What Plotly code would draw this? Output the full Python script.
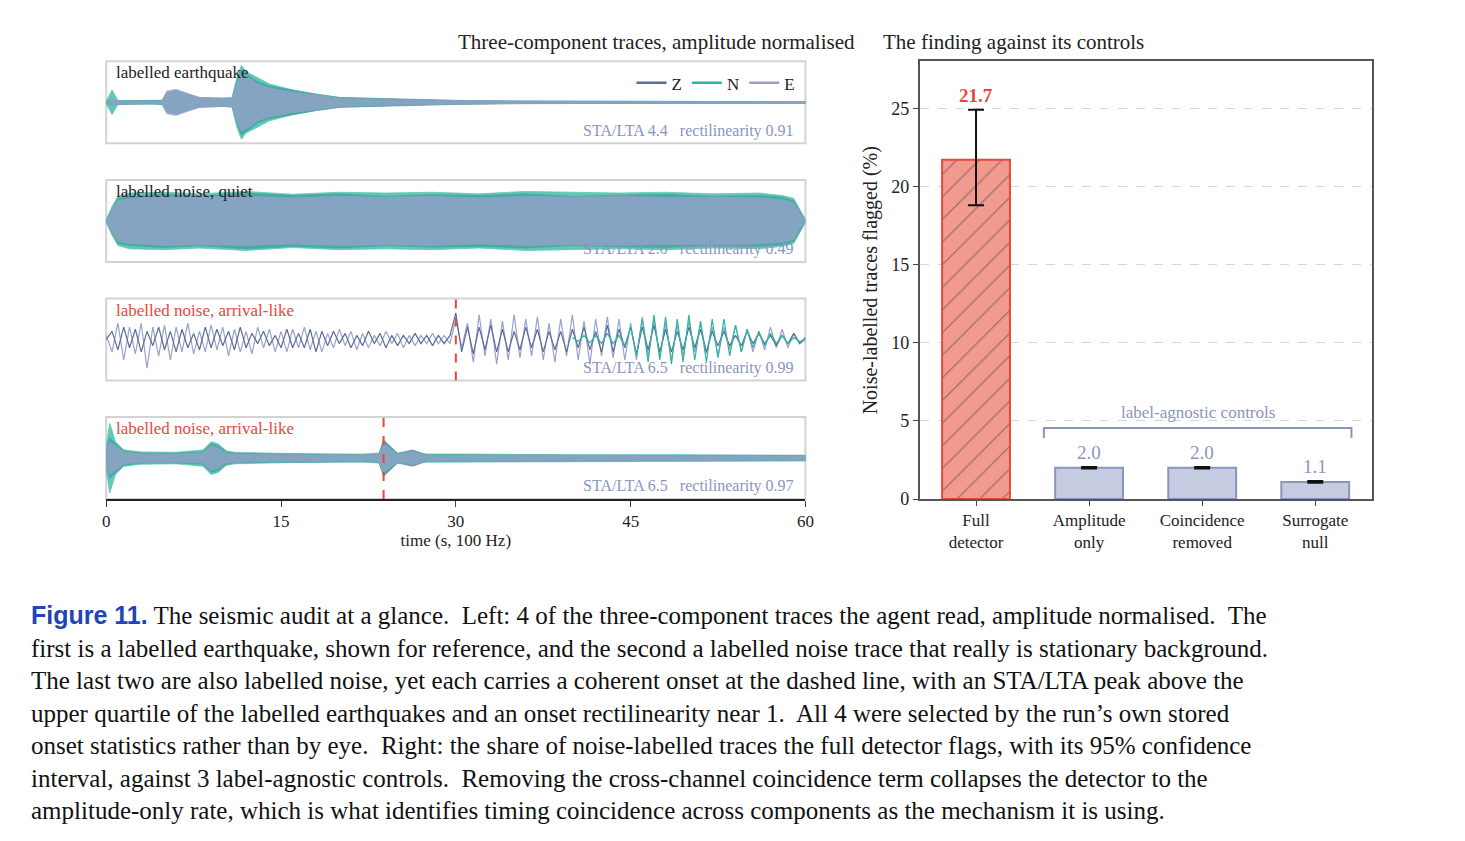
import plotly.graph_objects as go

# ---------- data ----------
comp_names = ["Z", "N", "E"]
comp_colors = ["#5b6d97", "#2fb5a0", "#9aa2cc"]

# panel 1: labelled earthquake, envelope (fraction of half-height)
eq_t = [0, 0.5, 1, 2, 4, 4.8, 5.2, 6, 7, 8, 10, 10.8, 11.2, 11.6, 12, 13, 14, 16, 18, 20, 25, 30, 35, 40, 50, 60]
eq_env_z = [.03, .05, .04, .04, .04, .05, .25, .3, .2, .12, .1, .1, .5, .8, .7, .5, .4, .3, .2, .12, .08, .05, .03, .03, .02, .02]
eq_env_n = [.03, .3, .05, .04, .04, .05, .2, .28, .18, .1, .1, .12, .6, .9, .75, .6, .45, .3, .2, .12, .07, .04, .03, .03, .02, .02]
eq_env_e = [.02, .05, .04, .03, .03, .04, .28, .32, .22, .12, .1, .1, .45, .7, .65, .45, .35, .25, .18, .1, .06, .04, .03, .02, .02, .02]

# panel 2: labelled noise, quiet
qn_t = [0, 0.5, 1, 2, 5, 8, 12, 16, 20, 24, 28, 32, 36, 40, 44, 48, 52, 56, 58, 59, 59.5, 60]
qn_env_z = [.03, .3, .55, .6, .65, .6, .68, .62, .66, .6, .64, .62, .66, .6, .63, .65, .6, .62, .58, .5, .25, .03]
qn_env_n = [.03, .35, .6, .68, .7, .66, .72, .65, .7, .68, .7, .66, .72, .7, .68, .7, .66, .68, .62, .55, .3, .03]
qn_env_e = [.03, .25, .5, .55, .6, .58, .6, .56, .6, .58, .6, .56, .6, .58, .6, .57, .58, .56, .52, .45, .2, .03]

# panel 3: labelled noise, arrival-like (samples every 0.5 s)
ar_t = [i * 0.5 for i in range(121)]
ar_z = [0, .2, -.25, .3, -.2, .25, -.3, .2, -.15, .3, -.25, .2, -.3, .25, -.2, .15, -.25, .3, -.2, .25, -.15, .2, -.25, .3, -.2, .15, -.1, .2, -.15, .1,
        -.2, .25, -.2, .15, -.2, .25, -.3, .2, -.15, .2, -.1, .15, -.2, .1, -.15, .2, -.1, .15, -.2, .1, -.15, .1, -.1, .15, -.1, .1, -.15, .1, -.1, .1,
        .65, -.3, .3, -.35, .3, -.25, .35, -.3, .25, -.3, .2, -.25, .3, -.2, .25, -.3, .2, -.25, .2, -.3, .25, -.2, .3, -.25, .2, -.3, .35, -.3, .25, -.2,
        .3, -.35, .3, -.25, .35, -.3, .25, -.3, .2, -.25, .3, -.2, .25, -.3, .2, -.15, .2, -.15, .1, -.15, .2, -.1, .15, -.1, .1, -.15, .1, -.1, .15, -.1, .05]
ar_e = [.1, -.3, .4, -.5, .3, -.35, .4, -.7, .3, -.4, .35, -.5, .3, -.3, .4, -.35, .2, -.3, .35, -.25, .3, -.4, .25, -.3, .2, -.35, .3, -.2, .25, -.3,
        .2, -.3, .25, -.2, .3, -.25, .2, -.3, .15, -.2, .25, -.15, .2, -.25, .15, -.2, .1, -.15, .2, -.1, .15, -.2, .1, -.15, .1, -.1, .15, -.1, .1, -.1,
        .5, -.2, .4, -.55, .6, -.4, .5, -.6, .45, -.5, .6, -.45, .5, -.4, .55, -.5, .4, -.55, .5, -.4, .6, -.5, .45, -.6, .5, -.4, .55, -.45, .5, -.5,
        .4, -.5, .55, -.4, .5, -.45, .4, -.5, .35, -.4, .45, -.3, .4, -.35, .3, -.4, .3, -.25, .35, -.3, .25, -.3, .2, -.25, .3, -.2, .25, -.2, .15, -.1, 0]
ar_n_t = [40 + i * 0.5 for i in range(41)]
ar_n = [.05, -.05, .1, -.08, .1, -.1, .15, -.1, .1, -.15,
        .3, -.4, .5, -.55, .6, -.5, .55, -.6, .5, -.55, .6, -.5, .45, -.55, .5, -.45, .5, -.4, .35, -.3,
        .25, -.2, .2, -.15, .15, -.1, .1, -.1, .05, -.05, 0]

# panel 4: labelled noise, arrival-like, envelope
a2_t = [0, 0.3, 0.8, 1.5, 3, 6, 8.3, 9, 9.6, 10.3, 11, 14, 18, 22, 23.4, 23.8, 24.3, 25, 26.3, 26.8, 27.5, 30, 40, 50, 60]
a2_env_z = [.2, .5, .35, .18, .12, .12, .15, .35, .3, .15, .12, .1, .1, .08, .1, .45, .3, .12, .2, .15, .08, .08, .07, .07, .06]
a2_env_n = [.3, .85, .4, .2, .15, .14, .2, .4, .35, .18, .14, .12, .1, .1, .12, .4, .3, .12, .15, .12, .1, .1, .08, .08, .07]
a2_env_e = [.2, .4, .3, .15, .1, .1, .12, .3, .25, .12, .1, .08, .08, .07, .08, .35, .25, .1, .15, .12, .07, .07, .06, .06, .05]

panel_labels = ["labelled earthquake", "labelled noise, quiet", "labelled noise, arrival-like", "labelled noise, arrival-like"]
panel_label_colors = ["#222222", "#222222", "#e8473a", "#e8473a"]
panel_stats = ["STA/LTA 4.4   rectilinearity 0.91", "STA/LTA 2.0   rectilinearity 0.49",
               "STA/LTA 6.5   rectilinearity 0.99", "STA/LTA 6.5   rectilinearity 0.97"]
onsets = [None, None, 30, 23.8]

bar_labels = ["Full<br>detector", "Amplitude<br>only", "Coincidence<br>removed", "Surrogate<br>null"]
bar_values = [21.7, 2.0, 2.0, 1.1]
err_plus = [3.2, 0.05, 0.05, 0.05]
err_minus = [2.9, 0.05, 0.05, 0.05]

# ---------- layout geometry ----------
W, H = 1465, 841
def py(p):
    return 1 - p / H

def ax(n):
    return "" if n == 1 else str(n)

panel_px = [(54, 137), (174, 257), (294, 377), (414, 497)]
left_dom = [95 / W, 800 / W]
right_dom = [915 / W, 1371 / W]
FONT = "Liberation Serif"

fig = go.Figure()

def add_band(i, t, envs):
    for k, env in enumerate(envs):
        xs = list(t) + list(t)[::-1]
        ys = list(env) + [-v for v in env][::-1]
        fig.add_trace(go.Scatter(x=xs, y=ys, fill="toself", mode="lines",
                                 line=dict(color=comp_colors[k], width=0.8),
                                 fillcolor=comp_colors[k], opacity=0.75,
                                 xaxis="x" + ax(i + 1), yaxis="y" + ax(i + 1),
                                 showlegend=False, hoverinfo="skip"))

add_band(0, eq_t, [eq_env_z, eq_env_n, eq_env_e])
add_band(1, qn_t, [qn_env_z, qn_env_n, qn_env_e])
for x, y, k in [(ar_t, ar_e, 2), (ar_t, ar_z, 0), (ar_n_t, ar_n, 1)]:
    fig.add_trace(go.Scatter(x=x, y=y, mode="lines", line=dict(color=comp_colors[k], width=1.2),
                             xaxis="x3", yaxis="y3", showlegend=False, hoverinfo="skip"))
add_band(3, a2_t, [a2_env_z, a2_env_n, a2_env_e])

# legend entries
for k in range(3):
    fig.add_trace(go.Scatter(x=[None], y=[None], mode="lines", name=comp_names[k],
                             line=dict(color=comp_colors[k], width=2.5), xaxis="x", yaxis="y"))

# bars
fig.add_trace(go.Bar(x=[0, 1, 2, 3], y=bar_values, width=0.6, xaxis="x5", yaxis="y5", showlegend=False,
                     marker=dict(color=["#f29a8e", "#c5cbe0", "#c5cbe0", "#c5cbe0"],
                                 line=dict(color=["#e8473a", "#8a95bf", "#8a95bf", "#8a95bf"], width=2),
                                 pattern=dict(shape=["/", "", "", ""], fgcolor="#e8473a", size=16, solidity=0.08)),
                     error_y=dict(type="data", array=err_plus, arrayminus=err_minus, color="#111111",
                                  thickness=2, width=8)))

layout = dict(width=W, height=H, margin=dict(l=0, r=0, t=0, b=0), plot_bgcolor="white",
              paper_bgcolor="white", font=dict(family=FONT, size=18, color="#222222"),
              legend=dict(orientation="h", x=795 / W, xanchor="right", y=py(58), yanchor="top",
                          bgcolor="rgba(0,0,0,0)", font=dict(size=17), tracegroupgap=0))
shapes, annotations = [], []
for i, (top, bot) in enumerate(panel_px):
    n = i + 1
    layout["xaxis" + ax(n)] = dict(domain=left_dom, range=[0, 60], anchor="y" + ax(n),
                                   showgrid=False, zeroline=False, showticklabels=(n == 4),
                                   ticks="outside" if n == 4 else "", tickvals=[0, 15, 30, 45, 60],
                                   showline=(n == 4), linecolor="#222222", linewidth=1.5,
                                   ticklen=6, tickfont=dict(size=17))
    layout["yaxis" + ax(n)] = dict(domain=[py(bot), py(top)], range=[-1, 1], anchor="x" + ax(n),
                                   showgrid=False, zeroline=False, showticklabels=False)
    xr, yr = "x" + ax(n), "y" + ax(n)
    shapes.append(dict(type="rect", xref=xr + " domain", yref=yr + " domain", x0=0, x1=1, y0=0, y1=1,
                       line=dict(color="#d3d3d3", width=2), layer="below"))
    if onsets[i] is not None:
        shapes.append(dict(type="line", xref=xr, yref=yr + " domain", x0=onsets[i], x1=onsets[i],
                           y0=0, y1=1, line=dict(color="#e8473a", width=2, dash="dash")))
    annotations.append(dict(x=8 / 705, y=1, xref=xr + " domain", yref=yr + " domain", text=panel_labels[i],
                            showarrow=False, xanchor="left", yanchor="top",
                            font=dict(size=17, color=panel_label_colors[i])))
    annotations.append(dict(x=0.987, y=0.02, xref=xr + " domain", yref=yr + " domain",
                            text=panel_stats[i].replace("   ", "&nbsp;&nbsp;&nbsp;"),
                            showarrow=False, xanchor="right", yanchor="bottom",
                            font=dict(size=16, color="#8a95bf")))
layout["xaxis4"]["title"] = dict(text="time (s, 100 Hz)", font=dict(size=17), standoff=4)

layout["xaxis5"] = dict(domain=right_dom, range=[-0.5, 3.5], anchor="y5", tickvals=[0, 1, 2, 3],
                        ticktext=bar_labels, showgrid=False, zeroline=False, showline=True, mirror=True,
                        linecolor="#555555", linewidth=1.5, ticks="outside", ticklen=5, tickfont=dict(size=17))
layout["yaxis5"] = dict(domain=[py(497), py(54)], range=[0, 28], anchor="x5", tickvals=[0, 5, 10, 15, 20, 25],
                        showgrid=True, gridcolor="#d6d6d6", griddash="dash", zeroline=False, showline=True,
                        mirror=True, linecolor="#555555", linewidth=1.5, ticks="outside", ticklen=5,
                        title=dict(text="Noise-labelled traces flagged (%)", font=dict(size=20), standoff=8))

for k, v in enumerate(bar_values):
    top = v + err_plus[k]
    annotations.append(dict(x=k, y=top, xref="x5", yref="y5", text=("<b>%.1f</b>" if k == 0 else "%.1f") % v,
                            showarrow=False, yanchor="bottom", yshift=2,
                            font=dict(size=19, color="#e8473a" if k == 0 else "#8a95bf")))
shapes.append(dict(type="path", xref="x5", yref="y5", path="M 0.6 3.9 L 0.6 4.55 L 3.32 4.55 L 3.32 3.9",
                   line=dict(color="#8a95bf", width=2)))
annotations.append(dict(x=1.96, y=4.8, xref="x5", yref="y5", text="label-agnostic controls", showarrow=False,
                        yanchor="bottom", font=dict(size=17, color="#8a95bf")))

annotations.append(dict(x=448 / W, y=py(20), xref="paper", yref="paper", text="Three-component traces, amplitude normalised",
                        showarrow=False, yanchor="top", font=dict(size=21)))
annotations.append(dict(x=1143 / W, y=py(20), xref="paper", yref="paper", text="The finding against its controls",
                        showarrow=False, yanchor="top", font=dict(size=21)))

caption = ("<span style='font-family:Liberation Sans;color:#2343b8'><b>Figure 11.</b></span> The seismic audit at a glance.  Left: 4 of the three-component traces the agent read, amplitude normalised.  The<br>"
           "first is a labelled earthquake, shown for reference, and the second a labelled noise trace that really is stationary background.<br>"
           "The last two are also labelled noise, yet each carries a coherent onset at the dashed line, with an STA/LTA peak above the<br>"
           "upper quartile of the labelled earthquakes and an onset rectilinearity near 1.  All 4 were selected by the run’s own stored<br>"
           "onset statistics rather than by eye.  Right: the share of noise-labelled traces the full detector flags, with its 95% confidence<br>"
           "interval, against 3 label-agnostic controls.  Removing the cross-channel coincidence term collapses the detector to the<br>"
           "amplitude-only rate, which is what identifies timing coincidence across components as the mechanism it is using.")
annotations.append(dict(x=17 / W, y=py(598), xref="paper", yref="paper", text=caption, showarrow=False,
                        xanchor="left", yanchor="top", align="left", font=dict(size=25, color="#111111")))

layout["shapes"] = shapes
layout["annotations"] = annotations
fig.update_layout(**layout)
fig.write_html("out.html")
